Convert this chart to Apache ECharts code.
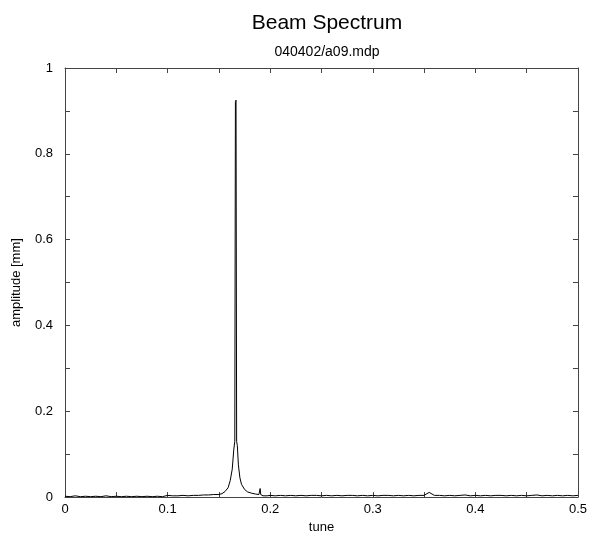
<!DOCTYPE html>
<html>
<head>
<meta charset="utf-8">
<script src="https://cdn.jsdelivr.net/npm/echarts@6/dist/echarts.min.js"></script>
<style>html,body{margin:0;padding:0;background:#fff}#c{width:590px;height:539px}</style>
</head>
<body>
<div id="c"></div>
<script>
// tune values (x)
var tune = [
  0, 0.005, 0.01, 0.015, 0.02, 0.025, 0.03, 0.035, 0.04, 0.045,
  0.05, 0.055, 0.06, 0.065, 0.07, 0.075, 0.08, 0.085, 0.09, 0.095,
  0.1, 0.105, 0.11, 0.115, 0.12, 0.125, 0.13, 0.135, 0.14, 0.145,
  0.15, 0.153, 0.156, 0.159, 0.161, 0.163, 0.1645, 0.1655, 0.1661, 0.1667,
  0.1673, 0.168, 0.169, 0.1705, 0.172, 0.175, 0.178, 0.182, 0.186, 0.189,
  0.1902, 0.1908, 0.193, 0.197, 0.2, 0.205, 0.21, 0.215, 0.22, 0.225,
  0.23, 0.235, 0.24, 0.245, 0.25, 0.255, 0.26, 0.265, 0.27, 0.275,
  0.28, 0.285, 0.29, 0.295, 0.3, 0.305, 0.31, 0.315, 0.32, 0.325,
  0.33, 0.335, 0.34, 0.345, 0.35, 0.355, 0.36, 0.365, 0.37, 0.375,
  0.38, 0.385, 0.39, 0.395, 0.4, 0.405, 0.41, 0.415, 0.42, 0.425,
  0.43, 0.435, 0.44, 0.445, 0.45, 0.455, 0.46, 0.465, 0.47, 0.475,
  0.48, 0.485, 0.49, 0.495, 0.5
];
// amplitude values [mm] (y)
var amplitude = [
  0.002, 0.001, 0.003, 0.001, 0.002, 0.001, 0.002, 0.001, 0.003, 0.001,
  0.002, 0.001, 0.002, 0.001, 0.002, 0.001, 0.002, 0.001, 0.002, 0.001,
  0.004, 0.003, 0.003, 0.004, 0.003, 0.004, 0.004, 0.005, 0.005, 0.006,
  0.006, 0.008, 0.013, 0.022, 0.038, 0.065, 0.11, 0.13, 0.92, 0.925,
  0.13, 0.12, 0.075, 0.045, 0.03, 0.018, 0.012, 0.009, 0.007, 0.006,
  0.02, 0.006, 0.003, 0.003, 0.004, 0.003, 0.004, 0.003, 0.004, 0.003,
  0.004, 0.003, 0.004, 0.004, 0.003, 0.004, 0.003, 0.004, 0.003, 0.004,
  0.004, 0.003, 0.004, 0.003, 0.004, 0.003, 0.004, 0.004, 0.003, 0.004,
  0.003, 0.004, 0.003, 0.004, 0.004, 0.011, 0.004, 0.004, 0.003, 0.004,
  0.003, 0.004, 0.005, 0.003, 0.004, 0.003, 0.004, 0.003, 0.004, 0.004,
  0.003, 0.004, 0.003, 0.004, 0.003, 0.004, 0.005, 0.003, 0.004, 0.003,
  0.004, 0.003, 0.004, 0.003, 0.004
];
var xTicks = [0, 0.1, 0.2, 0.3, 0.4, 0.5];
var yTicks = [0, 0.2, 0.4, 0.6, 0.8, 1];

var points = tune.map(function (t, i) { return [t, amplitude[i]]; });
var font = 'Liberation Sans, Arial, Helvetica, sans-serif';
var axisColor = '#444';

function xAx(pos, showLabel) {
  return {
    type: 'value', position: pos, min: xTicks[0], max: xTicks[xTicks.length - 1],
    interval: 0.1,
    name: showLabel ? 'tune' : '', nameLocation: 'middle', nameGap: 21,
    nameTextStyle: { fontFamily: font, fontSize: 13, color: '#000' },
    axisLine: { show: true, onZero: false, lineStyle: { color: axisColor, width: 1 } },
    axisTick: { show: true, inside: true, length: 5, lineStyle: { color: axisColor } },
    minorTick: { show: true, splitNumber: 2, length: 5, lineStyle: { color: axisColor } },
    axisLabel: { show: showLabel, fontFamily: font, fontSize: 13, color: '#000', margin: 6 },
    splitLine: { show: false }
  };
}
function yAx(pos, showLabel) {
  return {
    type: 'value', position: pos, min: yTicks[0], max: yTicks[yTicks.length - 1],
    interval: 0.2,
    name: showLabel ? 'amplitude [mm]' : '', nameLocation: 'middle', nameGap: 42,
    nameTextStyle: { fontFamily: font, fontSize: 13, color: '#000' },
    axisLine: { show: true, onZero: false, lineStyle: { color: axisColor, width: 1 } },
    axisTick: { show: true, inside: true, length: 5, lineStyle: { color: axisColor } },
    minorTick: { show: true, splitNumber: 2, length: 5, lineStyle: { color: axisColor } },
    axisLabel: { show: showLabel, fontFamily: font, fontSize: 13, color: '#000', margin: 12 },
    splitLine: { show: false }
  };
}

var chart = echarts.init(document.getElementById('c'), null, { renderer: 'canvas' });
chart.setOption({
  animation: false,
  backgroundColor: '#fff',
  title: [
    { text: 'Beam Spectrum', left: 322, top: 8, textAlign: 'center',
      textStyle: { fontFamily: font, fontSize: 21, fontWeight: 'normal', color: '#000' } },
    { text: '040402/a09.mdp', left: 322, top: 40, textAlign: 'center',
      textStyle: { fontFamily: font, fontSize: 14, fontWeight: 'normal', color: '#000' } }
  ],
  grid: { left: 65, right: 12, top: 68, bottom: 37, containLabel: false },
  xAxis: [xAx('bottom', true), xAx('top', false)],
  yAxis: [yAx('left', true), yAx('right', false)],
  series: [{
    type: 'line', data: points, showSymbol: false, symbol: 'none',
    lineStyle: { color: '#000', width: 1 }, xAxisIndex: 0, yAxisIndex: 0
  }]
});
</script>
</body>
</html>
